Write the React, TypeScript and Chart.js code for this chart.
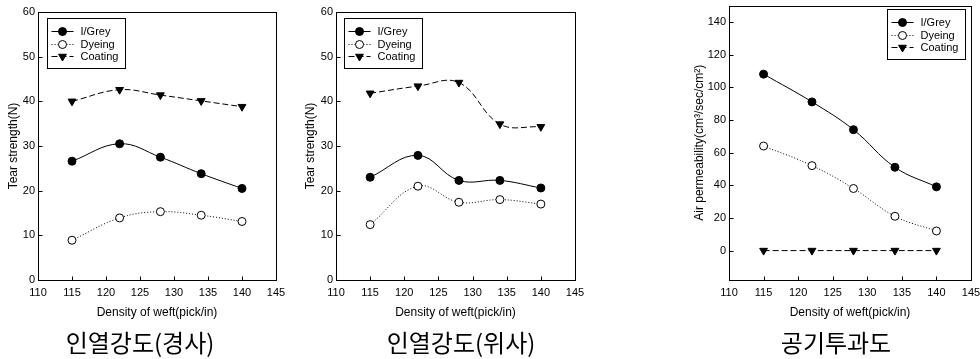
import React, { useEffect, useRef } from "react";
import { Chart, registerables } from "chart.js";

Chart.register(...registerables);

// ---------- data ----------
const densities = [115, 122, 128, 134, 140];
const seriesNames = ["I/Grey", "Dyeing", "Coating"];

const warpGrey = [26.6, 30.5, 27.5, 23.8, 20.5];
const warpDyeing = [8.9, 13.9, 15.3, 14.5, 13.1];
const warpCoating = [40.0, 42.6, 41.4, 40.1, 38.8];

const weftGrey = [23.0, 27.9, 22.3, 22.3, 20.6];
const weftDyeing = [12.4, 21.0, 17.4, 18.0, 17.0];
const weftCoating = [41.8, 43.4, 44.2, 34.9, 34.3];

const airGrey = [108, 91, 74, 51, 39];
const airDyeing = [64, 52, 38, 21, 12];
const airCoating = [0, 0, 0, 0, 0];

const xTitle = "Density of weft(pick/in)";
const yTitles = ["Tear strength(N)", "Tear strength(N)", "Air permeability(cm³/sec/cm²)"];
const captions = ["인열강도(경사)", "인열강도(위사)", "공기투과도"];

const FONT = "'Liberation Sans', Arial, sans-serif";

// ---------- decoration plugin: frame, inward ticks, legend ----------
const decorPlugin = {
  id: "decor",
  afterDraw(chart: any, _args: any, opts: any) {
    const ctx = chart.ctx;
    const { left, right, top, bottom } = chart.chartArea;
    const L = Math.round(left) + 0.5;
    const T = Math.round(top) + 0.5;
    const R = Math.round(right) + 0.5;
    const B = Math.round(bottom) + 0.5;
    ctx.save();
    ctx.strokeStyle = "#000";
    ctx.lineWidth = 1;
    ctx.setLineDash([]);
    ctx.strokeRect(L, T, R - L, B - T);
    const xs = chart.scales.x;
    const ys = chart.scales.y;
    ctx.beginPath();
    xs.ticks.forEach((t: any) => {
      const px = Math.round(xs.getPixelForValue(t.value)) + 0.5;
      ctx.moveTo(px, B);
      ctx.lineTo(px, B - 4);
    });
    ys.ticks.forEach((t: any) => {
      const py = Math.round(ys.getPixelForValue(t.value)) + 0.5;
      ctx.moveTo(L, py);
      ctx.lineTo(L + 4, py);
    });
    ctx.stroke();

    // legend
    const bx = Math.round(left + opts.dx) + 0.5;
    const by = Math.round(top + opts.dy) + 0.5;
    const bw = 78;
    const bh = 50;
    ctx.fillStyle = "#fff";
    ctx.fillRect(bx, by, bw, bh);
    ctx.strokeRect(bx, by, bw, bh);
    ctx.font = `11px ${FONT}`;
    ctx.textBaseline = "middle";
    ctx.textAlign = "left";
    chart.data.datasets.forEach((ds: any, i: number) => {
      const y = Math.round(by + 12.5 * (i + 1)) + 0.5;
      ctx.strokeStyle = "#000";
      ctx.lineWidth = 1;
      ctx.setLineDash(ds.borderDash || []);
      ctx.beginPath();
      ctx.moveTo(bx + 4, y);
      ctx.lineTo(bx + 26, y);
      ctx.stroke();
      ctx.setLineDash([]);
      const mx = bx + 15;
      ctx.beginPath();
      if (ds.pointStyle === "triangle") {
        const r = ds.pointRadius;
        ctx.moveTo(mx, y + r);
        ctx.lineTo(mx + r * Math.sin((2 * Math.PI) / 3), y - r / 2);
        ctx.lineTo(mx - r * Math.sin((2 * Math.PI) / 3), y - r / 2);
        ctx.closePath();
      } else {
        ctx.arc(mx, y, ds.pointRadius, 0, Math.PI * 2);
      }
      ctx.fillStyle = ds.pointBackgroundColor;
      ctx.fill();
      ctx.stroke();
      ctx.fillStyle = "#000";
      ctx.fillText(ds.label, bx + 33, y + 0.5);
    });
    ctx.restore();
  },
};

function makeDatasets(grey: number[], dyeing: number[], coating: number[]) {
  const pts = (arr: number[]) => densities.map((x, i) => ({ x, y: arr[i] }));
  return [
    {
      label: seriesNames[0],
      data: pts(grey),
      borderColor: "#000",
      borderWidth: 1,
      borderDash: [],
      pointStyle: "circle",
      pointRadius: 4,
      pointBackgroundColor: "#000",
      pointBorderColor: "#000",
      pointBorderWidth: 1,
      tension: 0.4,
      fill: false,
    },
    {
      label: seriesNames[1],
      data: pts(dyeing),
      borderColor: "#000",
      borderWidth: 1,
      borderDash: [1, 2],
      pointStyle: "circle",
      pointRadius: 4,
      pointBackgroundColor: "#fff",
      pointBorderColor: "#000",
      pointBorderWidth: 1,
      tension: 0.4,
      fill: false,
    },
    {
      label: seriesNames[2],
      data: pts(coating),
      borderColor: "#000",
      borderWidth: 1,
      borderDash: [6, 3],
      pointStyle: "triangle",
      pointRotation: 180,
      pointRadius: 4.5,
      pointBackgroundColor: "#000",
      pointBorderColor: "#000",
      pointBorderWidth: 1,
      tension: 0.4,
      fill: false,
    },
  ];
}

type Cfg = {
  left: number;
  width: number;
  yWidth: number;
  padTop: number;
  padRight: number;
  yMin: number;
  yMax: number;
  yStep: number;
  yTitle: string;
  yTitlePad: number;
  legendDx: number;
  legendDy: number;
  grey: number[];
  dyeing: number[];
  coating: number[];
};

const CANVAS_H = 325;
const X_AXIS_H = 45;

function LineChart({ cfg }: { cfg: Cfg }) {
  const ref = useRef<HTMLCanvasElement | null>(null);
  useEffect(() => {
    if (!ref.current) return;
    const chart = new Chart(ref.current, {
      type: "line",
      data: { datasets: makeDatasets(cfg.grey, cfg.dyeing, cfg.coating) as any },
      options: {
        animation: false,
        responsive: false,
        maintainAspectRatio: false,
        layout: { padding: { top: cfg.padTop, right: cfg.padRight, left: 0, bottom: 0 } },
        plugins: {
          legend: { display: false },
          tooltip: { enabled: false },
          decor: { dx: cfg.legendDx, dy: cfg.legendDy },
        } as any,
        scales: {
          x: {
            type: "linear",
            min: 110,
            max: 145,
            grid: { display: false, drawTicks: false },
            border: { display: false },
            ticks: {
              stepSize: 5,
              autoSkip: false,
              maxRotation: 0,
              padding: 6,
              color: "#000",
              font: { family: FONT, size: 11 },
            },
            title: {
              display: true,
              text: xTitle,
              color: "#000",
              font: { family: FONT, size: 12 },
              padding: { top: 2, bottom: 5 },
            },
            afterFit: (s: any) => {
              s.height = X_AXIS_H;
              s.paddingLeft = 0;
              s.paddingRight = 0;
            },
          },
          y: {
            type: "linear",
            min: cfg.yMin,
            max: cfg.yMax,
            grid: { display: false, drawTicks: false },
            border: { display: false },
            ticks: {
              stepSize: cfg.yStep,
              autoSkip: false,
              padding: 3,
              color: "#000",
              font: { family: FONT, size: 11 },
            },
            afterBuildTicks: (s: any) => {
              s.ticks = s.ticks.filter((t: any) => Math.abs(t.value % cfg.yStep) < 1e-9);
            },
            title: {
              display: true,
              text: cfg.yTitle,
              color: "#000",
              font: { family: FONT, size: 12 },
              padding: { top: cfg.yTitlePad, bottom: 2 },
            },
            afterFit: (s: any) => {
              s.width = cfg.yWidth;
              s.paddingTop = 0;
              s.paddingBottom = 0;
            },
          },
        },
      } as any,
      plugins: [decorPlugin as any],
    });
    return () => chart.destroy();
  }, [cfg]);
  return (
    <canvas
      ref={ref}
      width={cfg.width}
      height={CANVAS_H}
      style={{ position: "absolute", left: cfg.left, top: 0, width: cfg.width, height: CANVAS_H }}
    />
  );
}

const configs: Cfg[] = [
  {
    left: 0, width: 300, yWidth: 38, padTop: 12, padRight: 24,
    yMin: 0, yMax: 60, yStep: 10, yTitle: yTitles[0], yTitlePad: 6,
    legendDx: 9, legendDy: 6,
    grey: warpGrey, dyeing: warpDyeing, coating: warpCoating,
  },
  {
    left: 300, width: 300, yWidth: 36, padTop: 12, padRight: 25,
    yMin: 0, yMax: 60, yStep: 10, yTitle: yTitles[1], yTitlePad: 3,
    legendDx: 8, legendDy: 6,
    grey: weftGrey, dyeing: weftDyeing, coating: weftCoating,
  },
  {
    left: 680, width: 300, yWidth: 49, padTop: 4, padRight: 9,
    yMin: -18, yMax: 150, yStep: 20, yTitle: yTitles[2], yTitlePad: 12,
    legendDx: 158, legendDy: 3.5,
    grey: airGrey, dyeing: airDyeing, coating: airCoating,
  },
];

const captionCenters = [140, 461, 836];

export default function App() {
  return (
    <div style={{ position: "fixed", left: 0, top: 0, width: 980, height: 359, background: "#fff", overflow: "hidden" }}>
      {configs.map((c, i) => (
        <LineChart key={i} cfg={c} />
      ))}
      {captions.map((t, i) => (
        <div
          key={"c" + i}
          style={{
            position: "absolute",
            left: captionCenters[i] - 100,
            width: 200,
            top: 342 - 17,
            height: 34,
            lineHeight: "34px",
            textAlign: "center",
            fontFamily: "'Noto Sans CJK KR', sans-serif",
            fontSize: 24,
            color: "#000",
            whiteSpace: "nowrap",
          }}
        >
          {t}
        </div>
      ))}
    </div>
  );
}
